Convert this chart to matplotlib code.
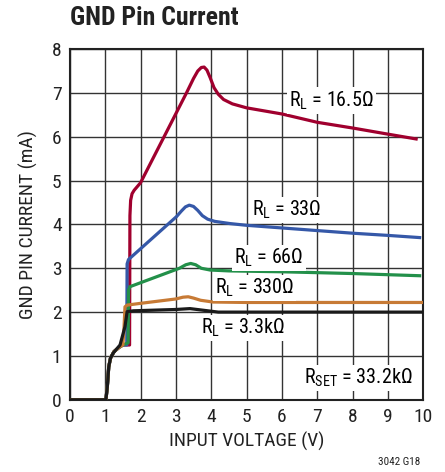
import matplotlib.pyplot as plt

plt.rcParams['font.family'] = ['Roboto Condensed', 'Archivo Narrow', 'DejaVu Sans Condensed', 'DejaVu Sans']
plt.rcParams['mathtext.fontset'] = 'custom'
plt.rcParams['mathtext.rm'] = 'Roboto Condensed'

# common start-up section (all loads)
base_v = [0, 1.02, 1.06, 1.10, 1.15, 1.25, 1.4, 1.5]
base_i = [0, 0, 0.3, 0.75, 0.95, 1.1, 1.2, 1.25]

red_v = base_v + [1.69, 1.70, 1.72, 1.76, 1.82, 2.0, 3.3, 3.5, 3.62, 3.72, 3.8, 3.88, 3.97, 4.08, 4.2, 4.35, 4.6, 5.0, 6, 7, 8, 9, 9.8]
red_i = base_i + [1.25, 4.2, 4.55, 4.7, 4.78, 4.95, 7.0, 7.33, 7.5, 7.58, 7.59, 7.52, 7.35, 7.12, 6.97, 6.85, 6.75, 6.66, 6.52, 6.33, 6.2, 6.06, 5.95]

blue_v = base_v + [1.61, 1.62, 1.66, 3.02, 3.15, 3.27, 3.38, 3.5, 3.62, 3.75, 3.9, 4.1, 4.53, 5, 6, 7, 8, 9, 9.9]
blue_i = base_i + [1.25, 3.1, 3.2, 4.18, 4.3, 4.4, 4.44, 4.41, 4.32, 4.2, 4.12, 4.07, 4.02, 3.98, 3.92, 3.86, 3.8, 3.75, 3.7]

green_v = base_v + [1.65, 1.66, 1.70, 3.1, 3.28, 3.42, 3.56, 3.72, 3.97, 4.5, 6, 8, 9.9]
green_i = base_i + [1.3, 2.5, 2.58, 3.0, 3.08, 3.11, 3.08, 3.0, 2.96, 2.94, 2.92, 2.88, 2.83]

orange_v = base_v + [1.53, 1.56, 1.62, 2.0, 3.0, 3.2, 3.35, 3.5, 3.7, 4.05, 5, 10]
orange_i = base_i + [1.6, 2.12, 2.16, 2.2, 2.3, 2.34, 2.35, 2.32, 2.27, 2.23, 2.22, 2.22]

black_v = [0, 1.02, 1.06, 1.10, 1.15, 1.23, 1.42, 1.56, 1.62, 1.8, 3.0, 3.4, 3.7, 4.2, 6, 10]
black_i = [0, 0, 0.3, 0.75, 0.95, 1.07, 1.25, 1.67, 2.01, 2.03, 2.06, 2.08, 2.05, 2.0, 2.0, 2.0]

fig = plt.figure(figsize=(4.45, 4.72), dpi=100)
ax = fig.add_axes([0.157, 0.153, 0.794, 0.743])

lw = 2.3
ax.plot(red_v, red_i, color='#a0002e', lw=lw, zorder=3, solid_joinstyle='round')
ax.plot(blue_v, blue_i, color='#3558a8', lw=lw, zorder=3, solid_joinstyle='round')
ax.plot(green_v, green_i, color='#23904a', lw=lw, zorder=3, solid_joinstyle='round')
ax.plot(orange_v, orange_i, color='#c77a35', lw=lw, zorder=3, solid_joinstyle='round')
ax.plot(black_v, black_i, color='#1a1a1a', lw=lw, zorder=4, solid_joinstyle='round')

ax.set_xlim(0, 10)
ax.set_ylim(0, 8)
ax.set_xticks(range(0, 11))
ax.set_yticks(range(0, 9))
ax.tick_params(length=0, labelsize=14, pad=6, colors='#222222')
ax.grid(True, color='#333333', lw=1.0)
ax.set_axisbelow(True)
for s in ax.spines.values():
    s.set_linewidth(1.5)
    s.set_color('#222222')

ax.set_xlabel('INPUT VOLTAGE (V)', fontsize=14, color='#222222', labelpad=4)
ax.set_ylabel('GND PIN CURRENT (mA)', fontsize=14, color='#222222', labelpad=10)

box = dict(facecolor='white', edgecolor='none', pad=1.5)
fs = 14.5
ax.text(6.2, 6.83, r'R$_\mathregular{L}$ = 16.5Ω', fontsize=fs, va='center', bbox=box, zorder=5)
ax.text(5.15, 4.33, r'R$_\mathregular{L}$ = 33Ω', fontsize=fs, va='center', bbox=box, zorder=5)
ax.text(4.65, 3.23, r'R$_\mathregular{L}$ = 66Ω', fontsize=fs, va='center', bbox=box, zorder=5)
ax.text(4.1, 2.55, r'R$_\mathregular{L}$ = 330Ω', fontsize=fs, va='center', bbox=box, zorder=5)
ax.text(3.72, 1.64, r'R$_\mathregular{L}$ = 3.3kΩ', fontsize=fs, va='center', bbox=box, zorder=5)
ax.text(9.7, 0.5, r'R$_\mathregular{SET}$ = 33.2kΩ', fontsize=fs, va='center', ha='right', bbox=box, zorder=5)

fig.text(0.157, 0.962, 'GND Pin Current', fontsize=18.5, fontweight='bold', va='center', color='#222222')
fig.text(0.945, 0.021, '3042 G18', fontsize=8, ha='right', va='center', color='#222222')

fig.savefig('out.png', dpi=100)
